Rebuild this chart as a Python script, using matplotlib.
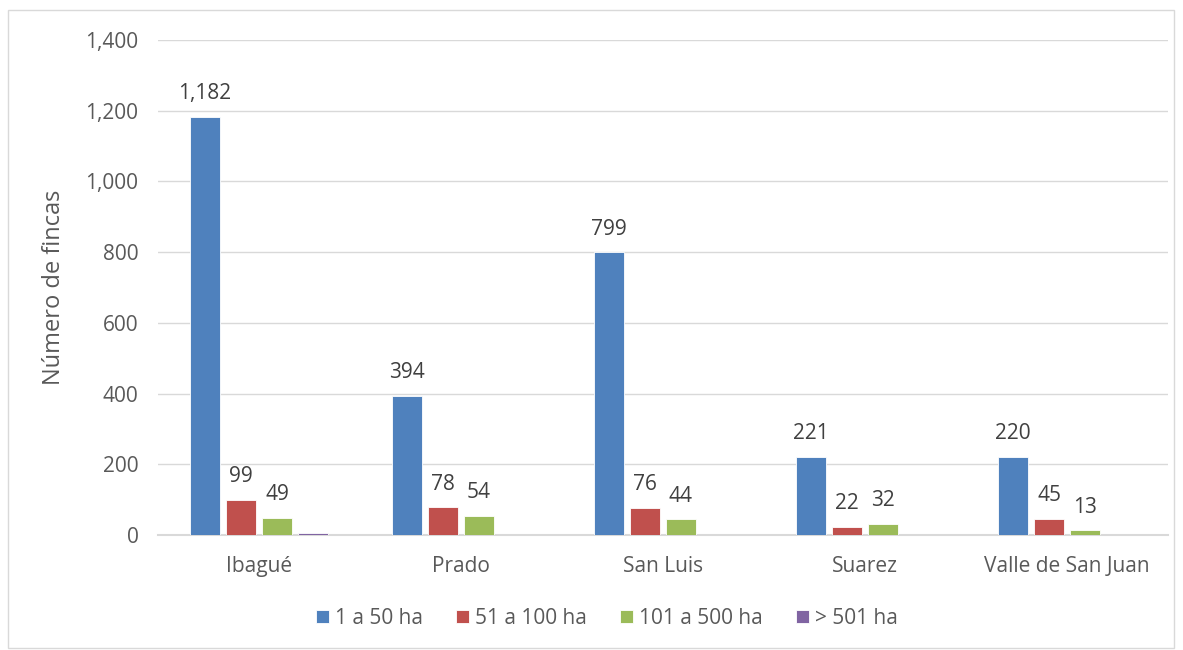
import numpy as np
import matplotlib.pyplot as plt
from matplotlib.patches import Rectangle
from matplotlib.ticker import FuncFormatter

municipios = ["Ibagué", "Prado", "San Luis", "Suarez", "Valle de San Juan"]
rangos = ["1 a 50 ha", "51 a 100 ha", "101 a 500 ha", "> 501 ha"]
ha_1_50 = [1182, 394, 799, 221, 220]
ha_51_100 = [99, 78, 76, 22, 45]
ha_101_500 = [49, 54, 44, 32, 13]
ha_501 = [6, 0, 0, 1, 0]
colores = ["#4F81BD", "#C0504D", "#9BBB59", "#8064A2"]

plt.rcParams['font.family'] = ['Open Sans', 'DejaVu Sans']
gris = "#595959"

fig = plt.figure(figsize=(11.83, 6.5), dpi=100)
ax = fig.add_axes([158 / 1183, 1 - 535 / 650, 1010 / 1183, 495 / 650])

# marco exterior del grafico
fig.patches.append(Rectangle((8 / 1183, 2 / 650), 1166 / 1183, 638 / 650,
                             transform=fig.transFigure, fill=False,
                             edgecolor="#D9D9D9", lw=1))

x = np.arange(len(municipios))
slot = 0.178
ancho = 0.148
series = [ha_1_50, ha_51_100, ha_101_500, ha_501]
for i, (vals, col, nom) in enumerate(zip(series, colores, rangos)):
    pos = x + (i - 1.5) * slot
    ax.bar(pos, vals, ancho, color=col, label=nom, edgecolor="white",
           linewidth=0.6, zorder=3)
    if i < 3:
        for p, v in zip(pos, vals):
            ax.text(p, v + 36, f"{v:,}", ha="center", va="bottom",
                    fontsize=15, color="#404040")

ax.set_xlim(-0.5, 4.5)
ax.set_ylim(0, 1400)
ax.set_yticks(range(0, 1401, 200))
ax.yaxis.set_major_formatter(FuncFormatter(lambda v, _: f"{int(v):,}"))
ax.set_xticks(x)
ax.set_xticklabels(municipios)
ax.tick_params(axis="both", length=0, labelsize=15, labelcolor=gris)
ax.tick_params(axis="y", pad=14)
ax.tick_params(axis="x", pad=15)
ax.grid(axis="y", color="#D9D9D9", lw=1, zorder=0)
for s in ["top", "right", "left"]:
    ax.spines[s].set_visible(False)
ax.spines["bottom"].set_color("#D9D9D9")
ax.spines["bottom"].set_linewidth(1.5)

ax.set_ylabel("Número de fincas", fontsize=17, color=gris, labelpad=14)

fig.legend(loc="center", bbox_to_anchor=(607 / 1183, 1 - 618 / 650), ncol=4,
           frameon=False, fontsize=15, labelcolor=gris, handlelength=0.6,
           handleheight=0.6, handletextpad=0.3, columnspacing=1.6)

fig.savefig("out.png", dpi=100)
